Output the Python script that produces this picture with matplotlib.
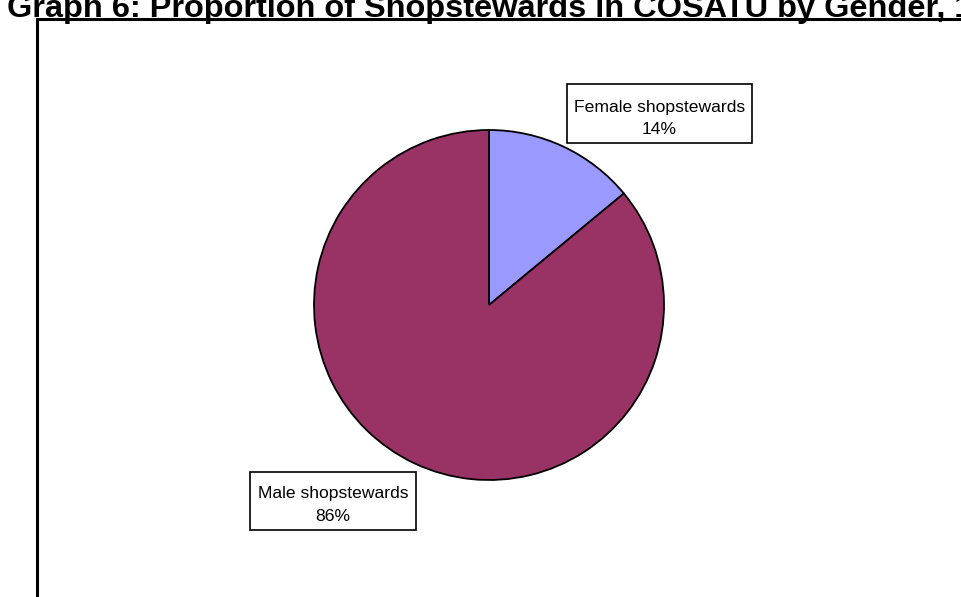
import matplotlib
matplotlib.use("Agg")
import matplotlib.pyplot as plt
from matplotlib.patches import Rectangle

categories = ["Female shopstewards", "Male shopstewards"]
values = [14, 86]
colors = ["#9999FF", "#993366"]
title = "Graph 6: Proportion of Shopstewards in COSATU by Gender, 1991"

W, H = 961, 597
fig = plt.figure(figsize=(W / 100, H / 100), dpi=100)
ax = fig.add_axes([0, 0, 1, 1])

ax.pie(values, colors=colors, startangle=90, counterclock=False,
       center=(489, H - 305), radius=175,
       wedgeprops=dict(edgecolor="black", linewidth=1.3), frame=True)
ax.set_xlim(0, W)
ax.set_ylim(0, H)
ax.set_aspect("auto")
ax.axis("off")

# chart frame
ax.add_patch(Rectangle((37, -10), W + 20, H - 19 + 10, fill=False,
                       edgecolor="black", linewidth=2.2, clip_on=True))

fam = ["Liberation Sans", "DejaVu Sans"]
ax.text(7, H - 17, title, fontsize=23.4, fontweight="bold", family=fam,
        ha="left", va="baseline")

# labels with boxes (x0, x1, y0, y1 in pixels from top-left)
labels = [f"{c}\n{v}%" for c, v in zip(categories, values)]
boxes = [(567, 752, 84, 143), (250, 416, 472, 530)]
centers = [(659.5, 118.5), (333, 505)]
for lab, (x0, x1, y0, y1), (cx, cy) in zip(labels, boxes, centers):
    ax.add_patch(Rectangle((x0, H - y1), x1 - x0, y1 - y0, facecolor="white",
                           edgecolor="black", linewidth=1.2, zorder=3))
    ax.text(cx, H - cy, lab, fontsize=12.6, family=fam, ha="center",
            va="center", linespacing=1.6, zorder=4)

fig.savefig("out.png", dpi=100)
